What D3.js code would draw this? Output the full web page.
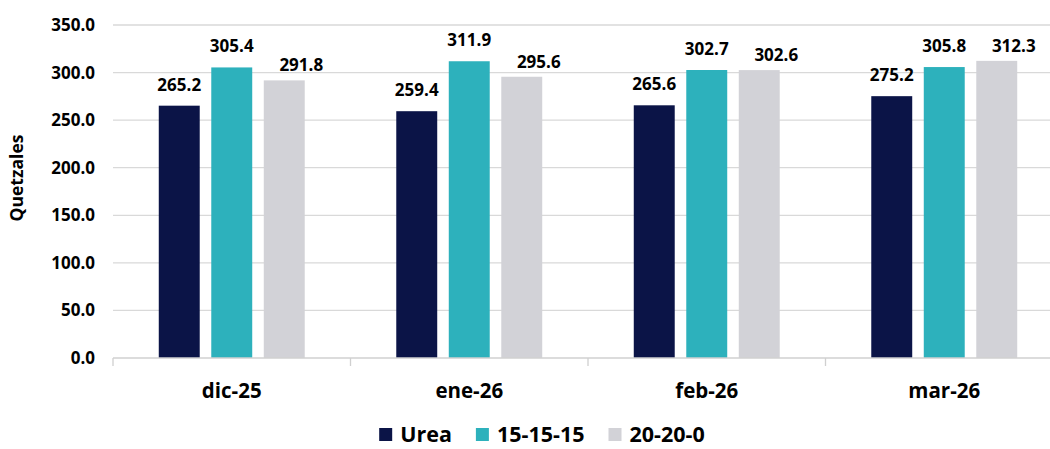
<!DOCTYPE html>
<html>
<head>
<meta charset="utf-8">
<script src="https://cdn.jsdelivr.net/npm/d3@7"></script>
<style>
  body { margin: 0; background: #fff; }
  text { font-family: "Open Sans", Lato, sans-serif; font-weight: bold; fill: #000; }
</style>
</head>
<body>
<div id="chart"></div>
<script>
let months = ["dic-25", "ene-26", "feb-26", "mar-26"];
let series = ["Urea", "15-15-15", "20-20-0"];
let urea = [265.2, 259.4, 265.6, 275.2];
let npk15 = [305.4, 311.9, 302.7, 305.8];
let npk20 = [291.8, 295.6, 302.6, 312.3];
let yTicks = [0, 50, 100, 150, 200, 250, 300, 350];

let colors = ["#0b1447", "#2db1bc", "#d2d2d7"];
let values = [urea, npk15, npk20];

let width = 1050,
    height = 449;

let svg = d3.select("#chart")
    .append("svg")
    .attr("width", width)
    .attr("height", height);

let x0 = d3.scaleBand()
    .domain(months)
    .range([113, 1063])
    .paddingInner(0.3368)
    .paddingOuter(0.1684);

let x1 = d3.scaleBand()
    .domain(series)
    .range([0, x0.bandwidth()])
    .paddingInner(0.22)
    .paddingOuter(0.11);

let y = d3.scaleLinear()
    .domain([0, 350])
    .range([358, 25]);

// gridlines
svg.selectAll(".grid")
    .data(yTicks.slice(1))
    .enter()
    .append("line")
    .attr("x1", 113)
    .attr("x2", width)
    .attr("y1", d => y(d))
    .attr("y2", d => y(d))
    .style("stroke", "#d9d9d9")
    .style("stroke-width", 1.3);

// y tick labels
svg.selectAll(".ylab")
    .data(yTicks)
    .enter()
    .append("text")
    .attr("x", 95)
    .attr("y", d => y(d) + 6)
    .attr("text-anchor", "end")
    .style("font-size", "17px")
    .text(d => d.toFixed(1));

svg.append("text")
    .attr("transform", "translate(23,178) rotate(-90)")
    .attr("text-anchor", "middle")
    .style("font-size", "17.5px")
    .text("Quetzales");

// bars
let groups = svg.selectAll(".month")
    .data(months)
    .enter()
    .append("g")
    .attr("transform", d => "translate(" + x0(d) + ",0)");

groups.selectAll("rect")
    .data((m, i) => series.map((s, j) => ({s: s, j: j, v: values[j][i]})))
    .enter()
    .append("rect")
    .attr("x", d => x1(d.s))
    .attr("width", x1.bandwidth())
    .attr("y", d => y(d.v))
    .attr("height", d => y(0) - y(d.v))
    .style("fill", d => colors[d.j]);

// value labels (the gray series sits a bit to the right, as in the original)
groups.selectAll(".val")
    .data((m, i) => series.map((s, j) => ({s: s, j: j, v: values[j][i]})))
    .enter()
    .append("text")
    .attr("x", d => x1(d.s) + x1.bandwidth() / 2 + (d.j === 2 ? 17 : 0))
    .attr("y", d => y(d.v) - (d.j === 2 ? 9 : 15))
    .attr("text-anchor", "middle")
    .style("font-size", "17px")
    .text(d => d.v.toFixed(1));

// x axis
svg.append("line")
    .attr("x1", 113)
    .attr("x2", width)
    .attr("y1", y(0))
    .attr("y2", y(0))
    .style("stroke", "#d0d0d0")
    .style("stroke-width", 1.3);

svg.selectAll(".tick")
    .data(months)
    .enter()
    .append("line")
    .attr("x1", d => x0(d) - x0.step() * x0.paddingOuter())
    .attr("x2", d => x0(d) - x0.step() * x0.paddingOuter())
    .attr("y1", y(0))
    .attr("y2", y(0) + 8)
    .style("stroke", "#d0d0d0")
    .style("stroke-width", 1.3);

svg.selectAll(".xlab")
    .data(months)
    .enter()
    .append("text")
    .attr("x", d => x0(d) + x0.bandwidth() / 2)
    .attr("y", 398)
    .attr("text-anchor", "middle")
    .style("font-size", "20.5px")
    .text(d => d);

// legend
let legend = svg.append("g");
let lx = 0;
series.forEach(function(s, j) {
    let item = legend.append("g").attr("transform", "translate(" + lx + ",0)");
    item.append("rect")
        .attr("x", 0)
        .attr("y", -14)
        .attr("width", 13)
        .attr("height", 13)
        .style("fill", colors[j]);
    let t = item.append("text")
        .attr("x", 21)
        .attr("y", 0)
        .style("font-size", "21.5px")
        .text(s);
    lx += 21 + t.node().getComputedTextLength() + 24;
});
let lw = lx - 24;
legend.attr("transform", "translate(" + (542 - lw / 2) + ",442)");
</script>
</body>
</html>
